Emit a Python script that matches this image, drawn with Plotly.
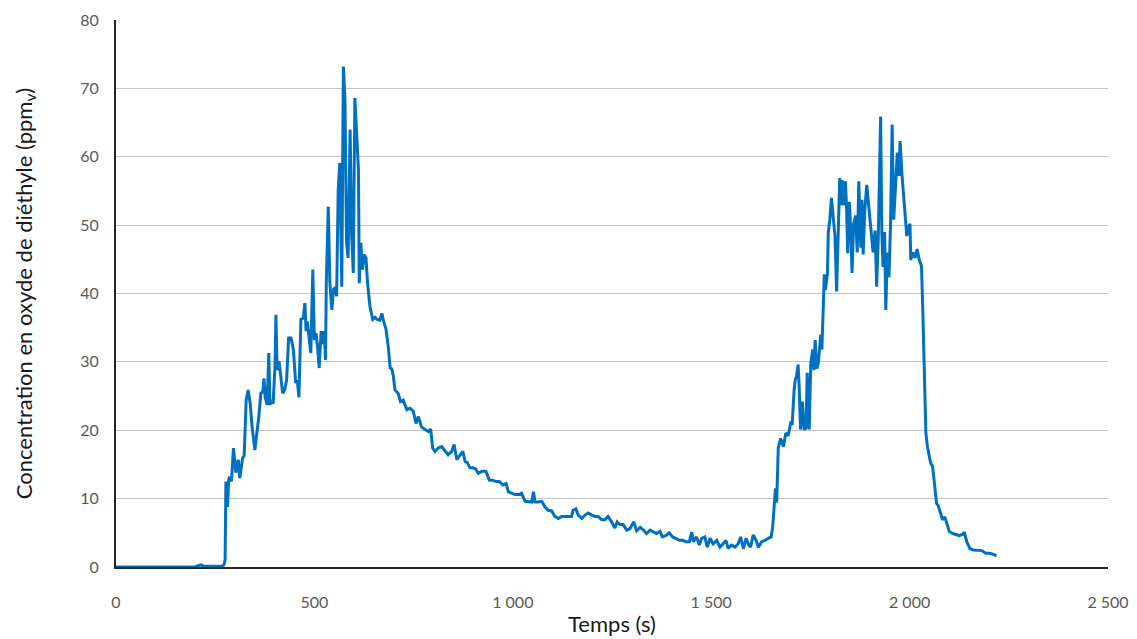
import plotly.graph_objects as go

# Time (s) and concentration (ppmv)
temps = [0, 50, 100, 150, 199, 207, 214, 222, 267, 272, 275,
         277, 281, 284, 287, 291, 296, 302, 308, 312, 319, 323, 328, 333, 338, 343,
         350, 355, 360, 365, 370, 373, 376, 381, 385, 388, 392, 396, 401, 403, 406,
         411, 415, 420, 425, 430, 435, 441, 447, 453, 457, 461, 466, 472, 476, 479,
         482, 487, 491, 496, 500, 504, 508, 512, 517, 521, 525, 528, 530, 535, 539,
         544, 548, 552, 556, 560, 564, 569, 573, 577, 581, 585, 590, 594, 598, 602,
         606, 611, 613, 617, 621, 626, 630, 634, 640, 647, 653, 658, 665, 670, 675,
         680, 686, 691, 695, 699, 703, 711, 717, 724, 733, 741, 749, 756, 762, 770,
         779, 787, 793, 798, 804, 812, 821, 829, 837, 846, 852, 859, 867, 874, 880,
         885, 892, 900, 907, 913, 922, 932, 941, 949, 958, 966, 975, 983, 989, 997,
         1006, 1014, 1022, 1031, 1039, 1048, 1052, 1056, 1064, 1073, 1081, 1089, 1098,
         1106, 1115, 1123, 1136, 1148, 1152, 1159, 1165, 1174, 1182, 1190, 1199, 1207,
         1215, 1224, 1232, 1240, 1249, 1257, 1263, 1270, 1278, 1287, 1295, 1305, 1312,
         1321, 1329, 1337, 1346, 1354, 1362, 1371, 1377, 1386, 1394, 1403, 1411, 1420,
         1428, 1436, 1445, 1451, 1455, 1463, 1470, 1476, 1484, 1490, 1497, 1505, 1514,
         1522, 1530, 1537, 1543, 1551, 1560, 1568, 1574, 1581, 1588, 1593, 1599, 1606,
         1613, 1619, 1627, 1636, 1644, 1651, 1655, 1659, 1662, 1665, 1669, 1675, 1682,
         1688, 1694, 1700, 1704, 1709, 1712, 1715, 1719, 1722, 1725, 1730, 1734, 1739,
         1742, 1747, 1751, 1756, 1759, 1762, 1766, 1770, 1776, 1779, 1782, 1785, 1788,
         1793, 1795, 1799, 1803, 1807, 1812, 1816, 1820, 1824, 1827, 1830, 1834, 1838,
         1841, 1844, 1848, 1851, 1855, 1859, 1864, 1868, 1872, 1877, 1880, 1883, 1887,
         1892, 1896, 1900, 1904, 1908, 1913, 1917, 1921, 1927, 1930, 1933, 1937, 1940,
         1944, 1948, 1952, 1956, 1960, 1965, 1969, 1973, 1976, 1981, 1984, 1988, 1993,
         1997, 2001, 2003, 2008, 2014, 2019, 2024, 2030, 2033, 2036, 2039, 2041, 2045,
         2049, 2053, 2058, 2061, 2064, 2068, 2072, 2078, 2083, 2089, 2093, 2100, 2109,
         2117, 2125, 2134, 2138, 2144, 2152, 2160, 2170, 2182, 2192, 2202, 2213, 2219]

concentration = [0, 0, 0, 0, 0, 0.2, 0.3, 0.1, 0.1, 0.3, 1.0,
                 12.5, 8.8, 12.8, 13.2, 12.5, 17.4, 13.8, 15.7, 13.0, 15.9, 16.3, 24.4, 25.9, 24.0, 20.5,
                 17.1, 19.6, 22.0, 25.4, 25.6, 27.6, 24.8, 23.7, 31.3, 23.7, 24.4, 23.9, 29.8, 36.9, 28.8,
                 30.1, 28.1, 25.4, 25.9, 27.3, 33.5, 33.5, 31.8, 26.9, 27.3, 24.8, 36.2, 36.4, 38.6, 34.5,
                 35.9, 33.2, 31.3, 43.5, 33.2, 34.2, 32.2, 29.1, 34.5, 32.6, 34.5, 30.3, 41.5, 52.7, 41.5,
                 37.6, 40.6, 40.8, 39.6, 55.2, 59.1, 41.0, 73.2, 68.4, 47.4, 45.2, 64.0, 48.4, 43.0, 68.6,
                 64.5, 58.1, 41.5, 47.4, 43.5, 45.7, 45.2, 41.5, 38.1, 36.2, 36.5, 36.2, 36.1, 37.1, 35.8,
                 34.9, 32.3, 29.1, 29.0, 27.9, 25.9, 25.4, 24.2, 24.4, 23.0, 23.2, 22.8, 21.0, 22.0, 20.5,
                 20.1, 19.8, 20.2, 17.4, 16.9, 17.4, 17.6, 16.9, 16.4, 16.9, 17.9, 15.7, 16.4, 16.9, 15.4,
                 15.3, 14.5, 14.5, 14.3, 13.7, 14.0, 14.0, 12.7, 12.7, 12.5, 12.5, 12.0, 12.2, 11.0, 10.8,
                 10.6, 10.6, 10.8, 9.6, 9.5, 9.5, 11.0, 9.5, 9.5, 9.6, 8.8, 8.3, 8.2,
                 7.4, 7.1, 7.4, 7.4, 7.4, 8.3, 8.5, 7.6, 7.1, 7.6, 7.9, 7.6, 7.4,
                 7.4, 6.9, 6.9, 7.4, 6.6, 5.7, 6.6, 6.2, 6.2, 5.4, 5.6, 6.6, 5.3,
                 5.8, 5.4, 4.9, 5.4, 5.2, 4.9, 5.2, 4.4, 4.6, 5.0, 4.4, 4.2, 3.9,
                 3.9, 3.7, 3.7, 5.1, 3.7, 4.4, 3.2, 4.2, 4.4, 2.9, 4.2, 3.4, 3.9,
                 2.9, 3.4, 3.9, 2.7, 3.2, 2.9, 3.4, 4.4, 2.7, 4.2, 3.4, 2.9, 4.7,
                 3.9, 2.9, 3.7, 3.9, 4.2, 4.4, 5.9, 8.6, 11.5, 9.4, 17.4, 18.8, 17.6,
                 19.6, 19.2, 21.0, 20.8, 25.9, 27.4, 27.9, 29.6, 26.0, 20.1, 24.2, 20.1, 20.3,
                 28.4, 20.1, 29.8, 31.8, 28.8, 33.2, 29.0, 29.8, 34.0, 31.8, 39.6, 42.8, 40.5,
                 43.0, 48.9, 50.8, 54.0, 51.4, 48.4, 40.3, 48.4, 56.9, 52.9, 56.6, 52.9, 56.4,
                 52.9, 45.9, 53.4, 50.2, 43.0, 50.2, 51.4, 46.0, 56.4, 46.7, 53.7, 45.7, 52.1,
                 55.9, 53.4, 50.8, 48.1, 46.0, 49.2, 41.0, 48.0, 65.9, 49.0, 43.9, 49.0, 37.6,
                 46.0, 42.4, 50.2, 64.7, 50.8, 55.6, 60.6, 57.2, 62.3, 57.2, 54.8, 52.1, 48.4,
                 49.7, 50.2, 44.9, 46.0, 45.2, 46.5, 45.0, 44.0, 38.1, 30.3, 25.4, 19.6, 17.6,
                 16.6, 15.2, 14.7, 13.2, 11.3, 9.3, 9.0, 7.9, 6.9, 7.3, 6.5, 5.2, 4.9,
                 4.8, 4.6, 4.8, 5.1, 3.7, 2.7, 2.5, 2.5, 2.4, 2.0, 2.0, 1.8, 1.6]

x_tickvals = [0, 500, 1000, 1500, 2000, 2500]
x_ticktext = ["0", "500", "1 000", "1 500", "2 000", "2 500"]
y_tickvals = [0, 10, 20, 30, 40, 50, 60, 70, 80]

fig = go.Figure()
fig.add_trace(go.Scatter(
    x=temps, y=concentration, mode="lines",
    line=dict(color="#0070C0", width=3),
    showlegend=False, hoverinfo="x+y",
))

font_family = "Lato, 'Open Sans', sans-serif"

# The page body adds an 8 px offset, so the figure is sized to fit the window
fig.update_layout(
    width=1129, height=631,
    margin=dict(l=108, r=29, t=12, b=72),
    paper_bgcolor="white", plot_bgcolor="white",
    font=dict(family=font_family, color="#595959", size=16),
    xaxis=dict(
        range=[0, 2500], tickvals=x_tickvals, ticktext=x_ticktext,
        showgrid=False, zeroline=False, automargin=False,
        showline=True, linecolor="#262626", linewidth=2,
        ticks="", ticklabelstandoff=20,
        tickfont=dict(size=16, color="#595959"),
        title=dict(text="Temps (s)", font=dict(size=22, color="#1a1a1a"), standoff=6),
        layer="below traces",
    ),
    yaxis=dict(
        range=[0, 80], tickvals=y_tickvals,
        showgrid=True, gridcolor="#c4c4c4", gridwidth=1.3,
        zeroline=False, automargin=False,
        showline=True, linecolor="#262626", linewidth=2,
        ticks="", ticklabelstandoff=12,
        tickfont=dict(size=16, color="#595959"),
        title=dict(text="Concentration en oxyde de diéthyle (ppm<sub>v</sub>)",
                   font=dict(size=22, color="#1a1a1a"), standoff=42),
        layer="below traces",
    ),
)

fig.write_html("out.html")
